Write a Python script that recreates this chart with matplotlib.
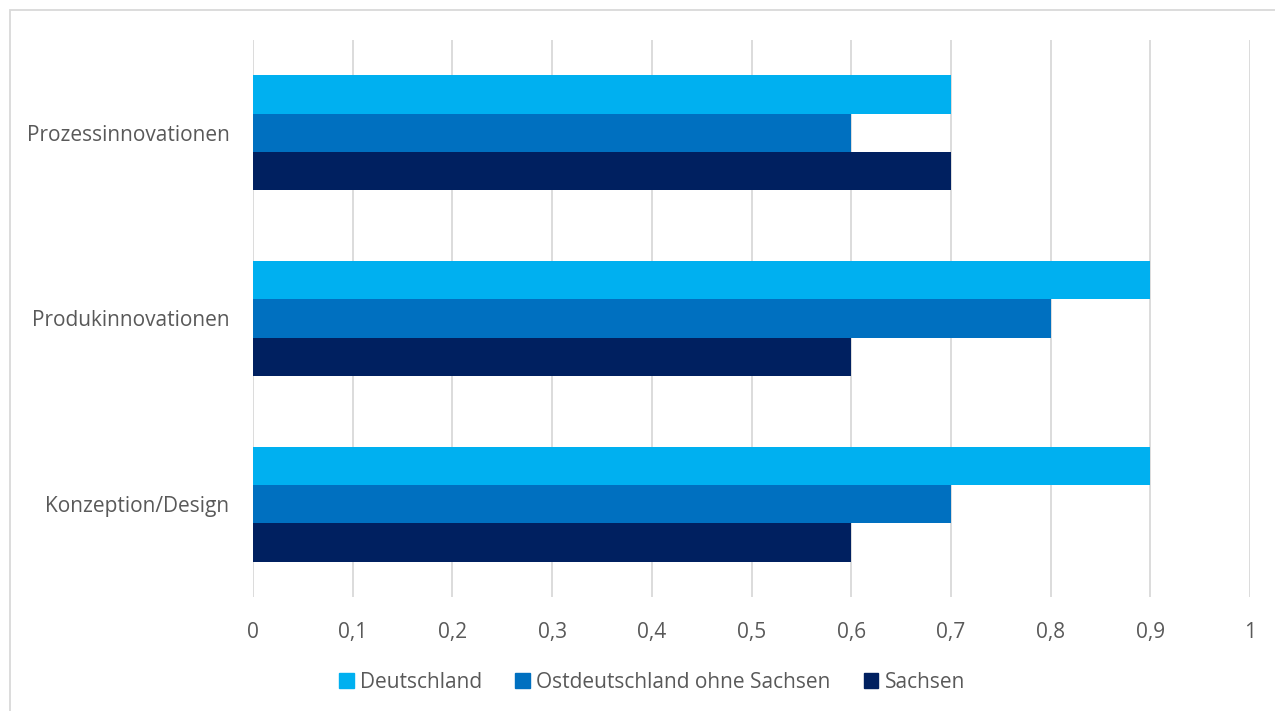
import matplotlib
matplotlib.use("Agg")
import matplotlib.pyplot as plt
from matplotlib.patches import Rectangle, Patch
import numpy as np

categories = ["Konzeption/Design", "Produkinnovationen", "Prozessinnovationen"]
series_names = ["Deutschland", "Ostdeutschland ohne Sachsen", "Sachsen"]
deutschland = [0.9, 0.9, 0.7]
ostdeutschland = [0.7, 0.8, 0.6]
sachsen = [0.6, 0.6, 0.7]
x_ticks = [0, 0.1, 0.2, 0.3, 0.4, 0.5, 0.6, 0.7, 0.8, 0.9, 1.0]
x_tick_labels = ["0", "0,1", "0,2", "0,3", "0,4", "0,5", "0,6", "0,7", "0,8", "0,9", "1"]

colors = ["#00B0F0", "#0070C0", "#002060"]
text_color = "#595959"
plt.rcParams["font.family"] = ["Open Sans", "DejaVu Sans"]

fig = plt.figure(figsize=(12.75, 7.11), dpi=100)
ax = fig.add_axes([253 / 1275, 1 - 597 / 711, 997 / 1275, 557 / 711])

y = np.arange(len(categories))
h = 0.207
for vals, off, col, name in zip([deutschland, ostdeutschland, sachsen], [h, 0, -h], colors, series_names):
    ax.barh(y + off, vals, height=h, color=col, label=name, zorder=3)

ax.set_xlim(0, 1)
ax.set_ylim(-0.5, 2.5)
ax.set_xticks(x_ticks)
ax.set_xticklabels(x_tick_labels)
ax.set_yticks(y)
ax.set_yticklabels(categories)
ax.grid(axis="x", color="#d9d9d9", linewidth=1.3, zorder=0)
for s in ax.spines.values():
    s.set_visible(False)
ax.tick_params(axis="both", length=0, labelcolor=text_color, labelsize=15)
ax.tick_params(axis="x", pad=18)
ax.tick_params(axis="y", pad=17)

handles = [Patch(color=c) for c in colors]
fig.legend(handles, series_names, loc="center", bbox_to_anchor=(652 / 1275, 1 - 682 / 711),
           ncol=3, frameon=False, fontsize=15, labelcolor=text_color,
           handlelength=0.7, handleheight=0.7, handletextpad=0.3, columnspacing=1.6)

fig.patches.append(Rectangle((10 / 1275, -0.01), 1.02, 1 - 10 / 711 + 0.01, transform=fig.transFigure,
                             fill=False, edgecolor="#d9d9d9", linewidth=1.3))

fig.savefig("out.png", dpi=100, facecolor="white")
